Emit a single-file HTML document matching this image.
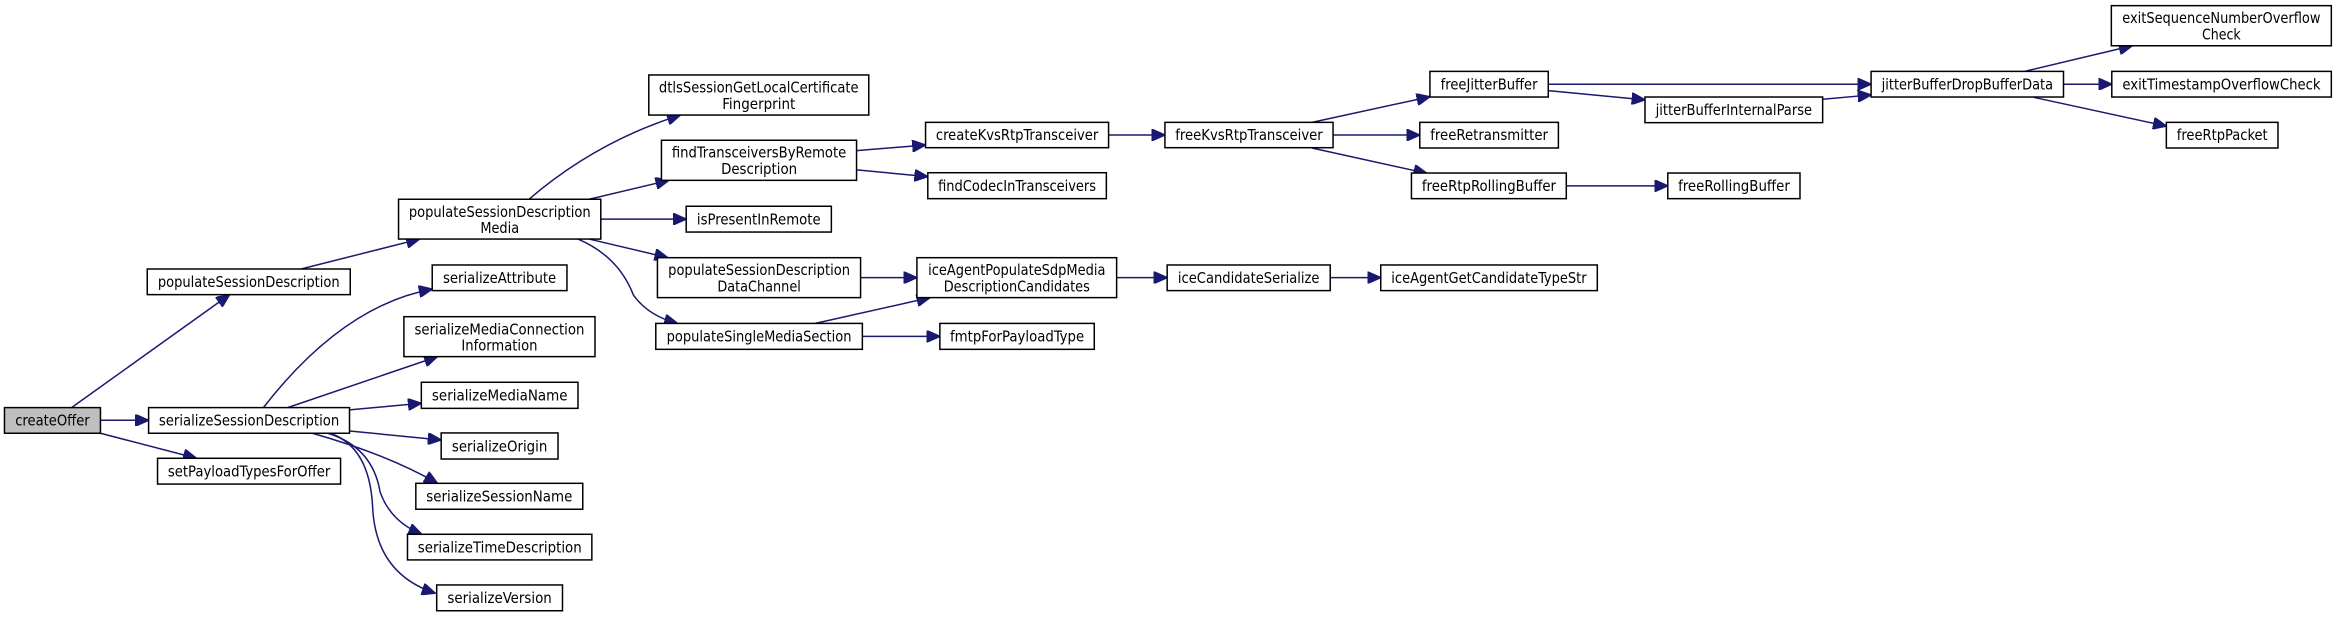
<!DOCTYPE html>
<html><head><meta charset="utf-8"><style>
html,body{margin:0;padding:0;background:#fff;}
svg{display:block;}
text{font-family:"DejaVu Sans Condensed","DejaVu Sans","Liberation Sans",sans-serif;font-size:10px;text-anchor:middle;fill:#000;}
rect{fill:#fff;stroke:#000;stroke-width:1;}
path{fill:none;stroke:#191970;stroke-width:1;}
</style></head><body>
<svg width="2337" height="617" viewBox="0 0 1568 414" preserveAspectRatio="none" xmlns="http://www.w3.org/2000/svg">
<defs><marker id="a" markerUnits="userSpaceOnUse" markerWidth="10" markerHeight="8" refX="9" refY="4" orient="auto"><path d="M0,0 L9,4 L0,8 Z" style="fill:#191970;stroke:#191970"/></marker></defs>
<g marker-end="url(#a)">
<path d="M48,273.5 L154,197.7"/>
<path d="M67.4,282 L99.7,282"/>
<path d="M67.4,290.7 L131.8,307.5"/>
<path d="M202,180.5 L281.5,160.4"/>
<path d="M176.7,273.5 Q230,205 290,194"/>
<path d="M193,273.5 L293.5,239.3"/>
<path d="M234.5,275 L282.7,270.6"/>
<path d="M234.5,289.2 L296,295.2"/>
<path d="M209.6,290.7 Q260,305 293.5,324.3"/>
<path d="M220,290.7 Q250,300 255,330 Q262,350 283,358.5"/>
<path d="M221.6,290.7 Q248,300 250,340 Q252,385 292,398"/>
<path d="M354.9,133.7 Q400,95 456.5,77.2"/>
<path d="M395.3,133.7 L448.8,121"/>
<path d="M403.1,147 L460.4,147"/>
<path d="M395.3,160.4 L448.1,172.9"/>
<path d="M387.8,160.4 Q415,172 425,198 Q435,212 454.6,217"/>
<path d="M574.7,101.1 L621,97.3"/>
<path d="M574.7,114 L622.5,118.5"/>
<path d="M743.8,90.6 L781.6,90.6"/>
<path d="M880.2,82.1 L959.4,64.9"/>
<path d="M894.4,90.6 L952.6,90.6"/>
<path d="M880.2,99.3 L957.4,116.3"/>
<path d="M1038.8,56.5 L1255.4,56.5"/>
<path d="M1038.8,60.8 L1103.7,67"/>
<path d="M1222.9,66.6 L1255.4,63.7"/>
<path d="M1358.4,47.9 L1430.6,30.7"/>
<path d="M1384.5,56.5 L1416.9,56.5"/>
<path d="M1364.5,65.3 L1453.5,84.6"/>
<path d="M1050.9,124.7 L1119,124.7"/>
<path d="M577.4,186.3 L615.2,186.3"/>
<path d="M547,217 L624,199.7"/>
<path d="M578.6,225.7 L630.6,225.7"/>
<path d="M749.2,186.3 L783.1,186.3"/>
<path d="M892.5,186.3 L926.4,186.3"/>
</g>
<rect x="3" y="273.5" width="64.4" height="17.2" style="fill:#bfbfbf"/><text x="35.2" y="285.6" textLength="50" lengthAdjust="spacingAndGlyphs">createOffer</text>
<rect x="98.8" y="180.5" width="136.2" height="17.2"/><text x="166.9" y="192.6" textLength="122" lengthAdjust="spacingAndGlyphs">populateSessionDescription</text>
<rect x="99.7" y="273.5" width="134.8" height="17.2"/><text x="167.1" y="285.6" textLength="121" lengthAdjust="spacingAndGlyphs">serializeSessionDescription</text>
<rect x="105.7" y="307.5" width="122.8" height="17.3"/><text x="167.1" y="319.7" textLength="109" lengthAdjust="spacingAndGlyphs">setPayloadTypesForOffer</text>
<rect x="267.4" y="133.7" width="135.7" height="26.7"/><text x="335.3" y="145.5" textLength="122" lengthAdjust="spacingAndGlyphs">populateSessionDescription</text><text x="335.3" y="156.5" textLength="26" lengthAdjust="spacingAndGlyphs">Media</text>
<rect x="290" y="177.8" width="90.4" height="17.2"/><text x="335.2" y="190" textLength="76" lengthAdjust="spacingAndGlyphs">serializeAttribute</text>
<rect x="271" y="212.5" width="128.2" height="26.8"/><text x="335.1" y="224.3" textLength="114" lengthAdjust="spacingAndGlyphs">serializeMediaConnection</text><text x="335.1" y="235.3" textLength="51" lengthAdjust="spacingAndGlyphs">Information</text>
<rect x="282.7" y="256.5" width="105.1" height="17.5"/><text x="335.3" y="268.8" textLength="91" lengthAdjust="spacingAndGlyphs">serializeMediaName</text>
<rect x="296" y="290.5" width="78.4" height="17.5"/><text x="335.2" y="302.8" textLength="64" lengthAdjust="spacingAndGlyphs">serializeOrigin</text>
<rect x="279" y="324.3" width="112" height="17.4"/><text x="335" y="336.5" textLength="98" lengthAdjust="spacingAndGlyphs">serializeSessionName</text>
<rect x="273.4" y="358.5" width="123.7" height="17.2"/><text x="335.3" y="370.6" textLength="110" lengthAdjust="spacingAndGlyphs">serializeTimeDescription</text>
<rect x="293" y="392.5" width="84.4" height="17.3"/><text x="335.2" y="404.7" textLength="70" lengthAdjust="spacingAndGlyphs">serializeVersion</text>
<rect x="435.3" y="50.3" width="147.6" height="26.9"/><text x="509.1" y="62" textLength="134" lengthAdjust="spacingAndGlyphs">dtlsSessionGetLocalCertificate</text><text x="509.1" y="73" textLength="49" lengthAdjust="spacingAndGlyphs">Fingerprint</text>
<rect x="443.8" y="94.1" width="130.9" height="26.9"/><text x="509.3" y="105.8" textLength="117" lengthAdjust="spacingAndGlyphs">findTransceiversByRemote</text><text x="509.3" y="116.8" textLength="51" lengthAdjust="spacingAndGlyphs">Description</text>
<rect x="460.4" y="138.4" width="97.4" height="17.3"/><text x="509.1" y="150.6" textLength="83" lengthAdjust="spacingAndGlyphs">isPresentInRemote</text>
<rect x="441.1" y="172.9" width="136.3" height="26.8"/><text x="509.3" y="184.6" textLength="122" lengthAdjust="spacingAndGlyphs">populateSessionDescription</text><text x="509.3" y="195.6" textLength="56" lengthAdjust="spacingAndGlyphs">DataChannel</text>
<rect x="440" y="217" width="138.6" height="17.4"/><text x="509.3" y="229.3" textLength="124" lengthAdjust="spacingAndGlyphs">populateSingleMediaSection</text>
<rect x="621" y="82.1" width="122.8" height="17"/><text x="682.4" y="94" textLength="109" lengthAdjust="spacingAndGlyphs">createKvsRtpTransceiver</text>
<rect x="622.5" y="115.9" width="119.8" height="17.4"/><text x="682.4" y="128.2" textLength="106" lengthAdjust="spacingAndGlyphs">findCodecInTransceivers</text>
<rect x="615.2" y="172.9" width="134" height="26.8"/><text x="682.2" y="184.6" textLength="119" lengthAdjust="spacingAndGlyphs">iceAgentPopulateSdpMedia</text><text x="682.2" y="195.6" textLength="98" lengthAdjust="spacingAndGlyphs">DescriptionCandidates</text>
<rect x="630.6" y="217" width="103.6" height="17.4"/><text x="682.4" y="229.3" textLength="90" lengthAdjust="spacingAndGlyphs">fmtpForPayloadType</text>
<rect x="781.6" y="82.1" width="112.8" height="17"/><text x="838" y="94" textLength="99" lengthAdjust="spacingAndGlyphs">freeKvsRtpTransceiver</text>
<rect x="783.1" y="177.8" width="109.4" height="17.2"/><text x="837.8" y="190" textLength="95" lengthAdjust="spacingAndGlyphs">iceCandidateSerialize</text>
<rect x="926.4" y="177.8" width="145.3" height="17.2"/><text x="999" y="190" textLength="131" lengthAdjust="spacingAndGlyphs">iceAgentGetCandidateTypeStr</text>
<rect x="959.4" y="47.9" width="79.4" height="17.2"/><text x="999.1" y="60" textLength="65" lengthAdjust="spacingAndGlyphs">freeJitterBuffer</text>
<rect x="952.6" y="82.1" width="93" height="17.2"/><text x="999.1" y="94" textLength="79" lengthAdjust="spacingAndGlyphs">freeRetransmitter</text>
<rect x="947" y="116.1" width="103.9" height="17.2"/><text x="999" y="128.2" textLength="90" lengthAdjust="spacingAndGlyphs">freeRtpRollingBuffer</text>
<rect x="1119" y="116.1" width="88.7" height="17.2"/><text x="1163.4" y="128.2" textLength="75" lengthAdjust="spacingAndGlyphs">freeRollingBuffer</text>
<rect x="1103.7" y="65.1" width="119.2" height="17.2"/><text x="1163.3" y="77.2" textLength="105" lengthAdjust="spacingAndGlyphs">jitterBufferInternalParse</text>
<rect x="1255.4" y="47.9" width="129.1" height="17.2"/><text x="1320" y="60" textLength="115" lengthAdjust="spacingAndGlyphs">jitterBufferDropBufferData</text>
<rect x="1416.6" y="3.8" width="147.6" height="26.9"/><text x="1490.4" y="15.5" textLength="133" lengthAdjust="spacingAndGlyphs">exitSequenceNumberOverflow</text><text x="1490.4" y="26.5" textLength="26" lengthAdjust="spacingAndGlyphs">Check</text>
<rect x="1416.9" y="47.9" width="147.3" height="17.2"/><text x="1490.5" y="60" textLength="133" lengthAdjust="spacingAndGlyphs">exitTimestampOverflowCheck</text>
<rect x="1453.5" y="82.1" width="74.9" height="17.2"/><text x="1491" y="94" textLength="61" lengthAdjust="spacingAndGlyphs">freeRtpPacket</text>
</svg>
</body></html>
